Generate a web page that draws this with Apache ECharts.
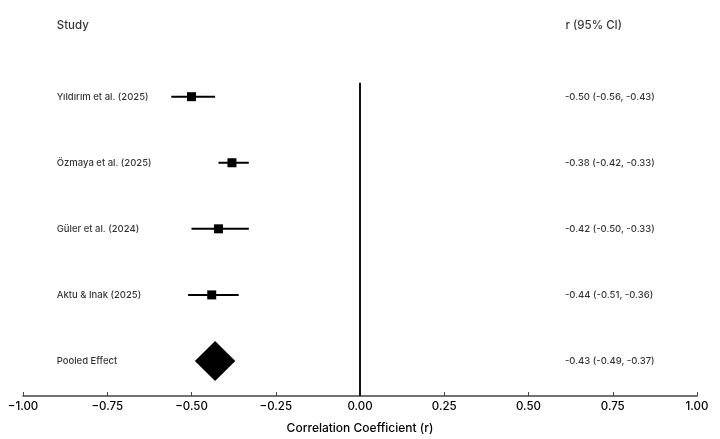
<!DOCTYPE html>
<html>
<head>
<meta charset="utf-8">
<script src="https://cdn.jsdelivr.net/npm/echarts@6/dist/echarts.min.js"></script>
<style>
  html, body { margin: 0; padding: 0; background: #fff; }
  #chart { width: 720px; height: 439px; }
</style>
</head>
<body>
<div id="chart"></div>
<script>
// studies, top to bottom
const studies = ['Yıldırım et al. (2025)', 'Özmaya et al. (2025)', 'Güler et al. (2024)', 'Aktu & Inak (2025)', 'Pooled Effect'];
const effects = [-0.50, -0.38, -0.42, -0.44, -0.43];
const lower = [-0.56, -0.42, -0.50, -0.51, -0.49];
const upper = [-0.43, -0.33, -0.33, -0.36, -0.37];
const ciLabels = ['-0.50 (-0.56, -0.43)', '-0.38 (-0.42, -0.33)', '-0.42 (-0.50, -0.33)', '-0.44 (-0.51, -0.36)', '-0.43 (-0.49, -0.37)'];
const xTicks = [-1, -0.75, -0.5, -0.25, 0, 0.25, 0.5, 0.75, 1];

const FONT = 'Inter';
const pooledIdx = studies.length - 1;

const chart = echarts.init(document.getElementById('chart'));

// rows drawn with custom series: CI line + square, or diamond for pooled
const forestData = effects.map((v, i) => [v, i, lower[i], upper[i]]);

function renderForest(params, api) {
  const i = api.value(1);
  const c = api.coord([api.value(0), i]);
  const lo = api.coord([api.value(2), i]);
  const hi = api.coord([api.value(3), i]);
  if (i === pooledIdx) {
    const h = 20;
    return {
      type: 'polygon',
      shape: { points: [[lo[0], c[1]], [c[0], c[1] - h], [hi[0], c[1]], [c[0], c[1] + h]] },
      style: { fill: '#000' }
    };
  }
  const s = 9;
  return {
    type: 'group',
    children: [
      { type: 'line', shape: { x1: lo[0], y1: c[1], x2: hi[0], y2: c[1] }, style: { stroke: '#000', lineWidth: 2 } },
      { type: 'rect', shape: { x: c[0] - s / 2, y: c[1] - s / 2, width: s, height: s }, style: { fill: '#000' } }
    ]
  };
}

const textLabel = size => ({
  show: true, position: 'inside', align: 'left',
  fontFamily: FONT, fontSize: size, fontWeight: 500, color: '#000',
  formatter: p => p.name
});

chart.setOption({
  animation: false,
  grid: { left: 23, right: 23, top: 24, bottom: 40, containLabel: false },
  xAxis: {
    type: 'value',
    min: -1,
    max: 1,
    interval: 0.25,
    name: 'Correlation Coefficient (r)',
    nameLocation: 'middle',
    nameGap: 26,
    nameTextStyle: { fontFamily: FONT, fontSize: 12, fontWeight: 500, color: '#000' },
    axisLine: { onZero: false, lineStyle: { color: '#444', width: 1.5 } },
    axisTick: { show: true, inside: true, length: 4, lineStyle: { color: '#444' } },
    axisLabel: {
      fontFamily: FONT, fontSize: 11.5, fontWeight: 500, color: '#000', margin: 5,
      formatter: v => (xTicks.includes(v) ? v.toFixed(2).replace('-', '−') : '')
    },
    splitLine: { show: false }
  },
  yAxis: {
    type: 'value',
    inverse: true,
    min: -1.1,
    max: 4.53,
    show: false
  },
  series: [
    {
      // reference line at zero
      type: 'line',
      data: [[0, -0.21], [0, 4.53]],
      symbol: 'none',
      lineStyle: { color: '#111', width: 2 },
      z: 1
    },
    {
      type: 'custom',
      renderItem: renderForest,
      data: forestData,
      z: 3
    },
    {
      // study names
      type: 'scatter',
      symbolSize: 0,
      data: studies.map((s, i) => ({ value: [-0.9, i], name: s })),
      label: textLabel(9.5)
    },
    {
      // CI text
      type: 'scatter',
      symbolSize: 0,
      data: ciLabels.map((s, i) => ({ value: [0.608, i], name: s })),
      label: textLabel(9.5)
    },
    {
      // column headers
      type: 'scatter',
      symbolSize: 0,
      data: [{ value: [-0.9, -1.07], name: 'Study' }, { value: [0.61, -1.07], name: 'r (95% CI)' }],
      label: textLabel(11.5)
    }
  ]
});
</script>
</body>
</html>
